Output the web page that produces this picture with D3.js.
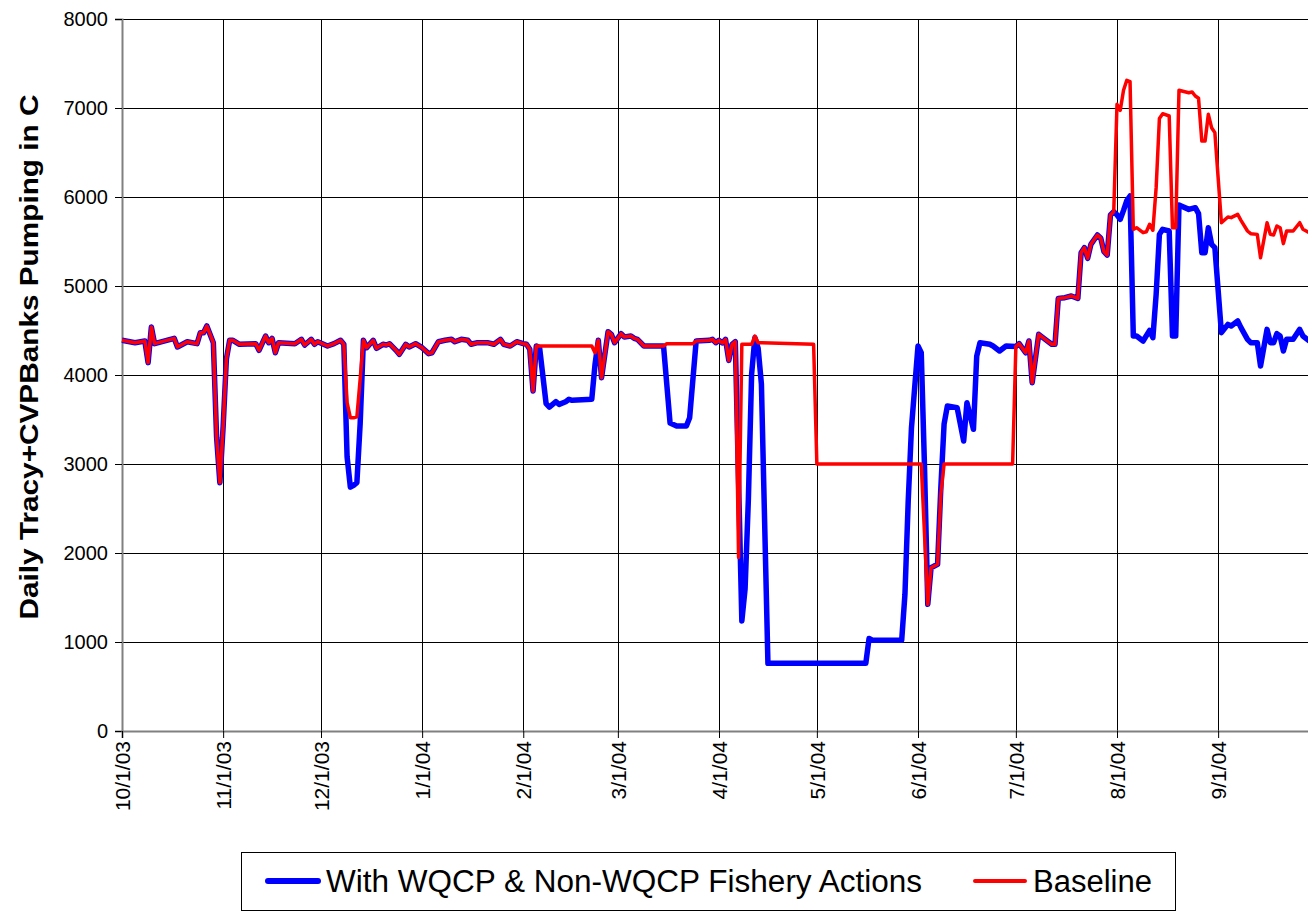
<!DOCTYPE html>
<html>
<head>
<meta charset="utf-8">
<script src="https://cdn.jsdelivr.net/npm/d3@7"></script>
<style>
  body { margin: 0; background: #fff; }
  svg { display: block; font-family: "Liberation Sans", Arial, sans-serif; }
</style>
</head>
<body>
<svg id="chart" width="1308" height="914"></svg>
<script>
// day offsets from 10/1/03, daily pumping in cfs
var withActions = [
  [0,4390],[4,4363],[7,4382],[8,4139],[9,4540],[10,4352],[16,4412],[17,4315],[20,4374],[23,4352],
  [24,4475],[25,4475],[26,4551],[28,4363],[29,3300],[30,2790],[31,3420],[32,4180],[33,4390],[34,4390],
  [36,4345],[41,4352],[42,4277],[44,4438],[45,4363],[46,4412],[47,4250],[48,4363],[53,4352],[55,4401],
  [56,4337],[58,4401],[59,4345],[60,4374],[63,4326],[65,4352],[67,4390],[68,4345],
  [69,3080],[70,2740],[71,2760],[72,2790],[73,3450],[74,4390],
  [75,4307],[77,4390],[78,4300],[80,4345],[81,4337],[82,4352],[84,4277],[85,4232],[87,4345],[88,4315],
  [90,4352],[92,4307],[94,4240],[95,4250],[97,4374],[99,4390],[101,4401],[102,4374],[104,4401],[106,4390],
  [107,4345],[109,4363],[112,4363],[114,4345],[116,4401],[117,4345],[119,4326],[121,4374],[123,4352],[124,4345],
  [125,4289],[126,3820],[127,4326],[128,4307],[130,3678],[131,3640],[133,3700],[134,3670],[136,3700],[137,3727],
  [138,3715],[144,3727],[145,4120],[146,4390],[147,3970],[149,4487],[150,4457],[151,4363],[153,4464],[154,4427],
  [156,4438],[157,4412],[158,4401],[160,4326],[166,4326],[168,3460],[170,3427],[173,3427],[174,3520],[176,4382],
  [180,4390],[181,4401],[182,4363],[183,4390],[184,4360],[185,4401],[186,4164],[187,4345],[188,4374],
  [190,1236],[191,1600],[192,2600],[193,4010],[194,4420],[195,4300],[196,3900],[198,760],[228,760],
  [229,1040],[230,1020],[239,1020],[240,1536],[241,2584],[242,3408],[244,4326],[245,4250],[246,2959],
  [247,1423],[248,1835],[250,1873],[251,2734],[252,3450],[253,3652],[256,3633],[258,3258],[259,3689],
  [261,3390],[262,4213],[263,4363],[266,4345],[267,4326],[269,4270],[271,4326],[274,4320],
  [275,4352],[277,4250],[278,4382],[279,3914],[281,4457],[283,4401],[285,4345],[286,4345],[287,4861],
  [289,4869],[291,4888],[293,4861],[294,5374],[295,5431],[296,5311],[297,5468],[299,5573],[300,5540],
  [301,5386],[302,5348],[303,5798],[304,5835],[305,5800],[306,5749],[307,5850],[308,5960],[309,6011],
  [310,4438],[311,4438],[313,4382],[315,4502],[316,4419],[317,4906],[318,5580],[319,5637],[321,5618],
  [322,4438],[323,4438],[324,5910],[327,5861],[329,5880],[330,5813],[331,5374],[332,5374],[333,5655],
  [334,5468],[335,5431],[337,4476],[339,4569],[340,4551],[342,4607],[343,4532],[345,4401],[346,4363],
  [348,4363],[349,4101],[351,4513],[352,4363],[353,4363],[354,4464],[355,4438],[356,4270],[357,4401],
  [359,4401],[361,4513],[362,4438],[364,4382],[365,4400]
];

var baseline = [
  [0,4390],[4,4363],[7,4382],[8,4139],[9,4540],[10,4352],[16,4412],[17,4315],[20,4374],[23,4352],
  [24,4475],[25,4475],[26,4551],[28,4363],[29,3300],[30,2790],[31,3420],[32,4180],[33,4390],[34,4390],
  [36,4345],[41,4352],[42,4277],[44,4438],[45,4363],[46,4412],[47,4250],[48,4363],[53,4352],[55,4401],
  [56,4337],[58,4401],[59,4345],[60,4374],[63,4326],[65,4352],[67,4390],[68,4345],
  [69,3690],[70,3520],[71,3520],[72,3530],[73,3950],[74,4390],
  [75,4307],[77,4390],[78,4300],[80,4345],[81,4337],[82,4352],[84,4277],[85,4232],[87,4345],[88,4315],
  [90,4352],[92,4307],[94,4240],[95,4250],[97,4374],[99,4390],[101,4401],[102,4374],[104,4401],[106,4390],
  [107,4345],[109,4363],[112,4363],[114,4345],[116,4401],[117,4345],[119,4326],[121,4374],[123,4352],[124,4345],
  [125,4289],[126,3820],[127,4326],[144,4326],[145,4250],[146,4390],[147,3970],[149,4487],[150,4457],[151,4363],
  [153,4464],[154,4427],[156,4438],[157,4412],[158,4401],[160,4326],[166,4326],[167,4352],[175,4352],[176,4382],
  [180,4390],[181,4401],[182,4363],[183,4390],[184,4360],[185,4401],[186,4164],[187,4345],[188,4374],
  [189,1950],[190,4345],[193,4345],[194,4438],[195,4363],[212,4345],[213,3000],[245,3000],
  [247,1423],[248,1835],[250,1873],[251,2659],[252,3000],[273,3000],[274,4320],
  [275,4352],[277,4250],[278,4382],[279,3914],[281,4457],[283,4401],[285,4345],[286,4345],[287,4861],
  [289,4869],[291,4888],[293,4861],[294,5374],[295,5431],[296,5311],[297,5468],[299,5573],[300,5540],
  [301,5386],[302,5348],[303,5798],[304,5835],[305,7041],[306,6974],[307,7199],[308,7311],[309,7296],
  [310,5637],[311,5655],[313,5599],[314,5610],[315,5693],[316,5626],[317,6105],[318,6883],[319,6936],
  [321,6910],[322,5655],[323,5655],[324,7199],[327,7172],[328,7180],[329,7135],[330,7109],[331,6629],
  [332,6629],[333,6929],[334,6779],[335,6723],[337,5711],[339,5775],[340,5768],[342,5805],[343,5738],
  [345,5618],[346,5588],[348,5580],[349,5318],[351,5711],[352,5580],[353,5573],[354,5674],[355,5655],
  [356,5476],[357,5618],[359,5618],[361,5711],[362,5637],[364,5599],[365,5600]
];

var yTicks = [0, 1000, 2000, 3000, 4000, 5000, 6000, 7000, 8000];
var seriesNames = ["With WQCP & Non-WQCP Fishery Actions", "Baseline"];
var seriesColors = ["#0000ff", "#ff0000"];

var start = new Date(Date.UTC(2003, 9, 1));
var end = new Date(Date.UTC(2004, 9, 1));
function dayDate(d) { return d3.utcDay.offset(start, d); }

var svg = d3.select('#chart');

var x = d3.scaleUtc().domain([start, end]).range([122, 1316]);
var y = d3.scaleLinear().domain([0, 8000]).range([731, 19]);
var months = d3.utcMonth.range(start, end);

// grid
svg.append('g').selectAll('line.h')
    .data(yTicks).enter()
    .append('line')
    .attr('x1', 122).attr('x2', 1316)
    .attr('y1', function(d) { return y(d) + 0.5; })
    .attr('y2', function(d) { return y(d) + 0.5; })
    .attr('stroke', '#000').attr('stroke-width', 1);

svg.append('g').selectAll('line.v')
    .data(months.slice(1)).enter()
    .append('line')
    .attr('x1', function(d) { return Math.round(x(d)) + 0.5; })
    .attr('x2', function(d) { return Math.round(x(d)) + 0.5; })
    .attr('y1', 19).attr('y2', 731)
    .attr('stroke', '#000').attr('stroke-width', 1);

// axes
var yAxis = svg.append('g')
    .attr('transform', 'translate(122,0)')
    .call(d3.axisLeft(y).tickValues(yTicks).tickSize(7).tickPadding(7)
        .tickFormat(d3.format('d')));
yAxis.select('.domain').attr('stroke', '#808080').attr('stroke-width', 2);
yAxis.selectAll('text').attr('font-size', 20).attr('fill', '#000')
    .attr('font-family', '"Liberation Sans", Arial, sans-serif');

var xAxis = svg.append('g')
    .attr('transform', 'translate(0,731)')
    .call(d3.axisBottom(x).tickValues(months).tickSize(7)
        .tickFormat(d3.utcFormat('%-m/%-d/%y')));
xAxis.select('.domain').attr('stroke', '#808080').attr('stroke-width', 2);
xAxis.selectAll('text')
    .attr('font-size', 21).attr('fill', '#000')
    .attr('font-family', '"Liberation Sans", Arial, sans-serif')
    .attr('transform', 'rotate(-90)')
    .attr('x', -10).attr('y', 0).attr('dy', '0.35em')
    .style('text-anchor', 'end');

// y title
svg.append('text')
    .attr('transform', 'translate(38,357) rotate(-90)')
    .attr('text-anchor', 'middle')
    .attr('font-size', 25).attr('font-weight', 'bold')
    .attr('textLength', 525).attr('lengthAdjust', 'spacingAndGlyphs')
    .text('Daily Tracy+CVPBanks Pumping in C');

// lines
var line = d3.line()
    .x(function(d) { return x(dayDate(d[0])); })
    .y(function(d) { return y(d[1]); });

svg.append('path').datum(withActions)
    .attr('d', line).attr('fill', 'none')
    .attr('stroke', seriesColors[0]).attr('stroke-width', 5.5)
    .attr('stroke-linejoin', 'round');

svg.append('path').datum(baseline)
    .attr('d', line).attr('fill', 'none')
    .attr('stroke', seriesColors[1]).attr('stroke-width', 3.5)
    .attr('stroke-linejoin', 'round');

// legend
var legend = svg.append('g');
legend.append('rect')
    .attr('x', 241.5).attr('y', 852.5).attr('width', 934).attr('height', 58)
    .attr('fill', '#fff').attr('stroke', '#000').attr('stroke-width', 1);

var items = [
    { name: seriesNames[0], color: seriesColors[0], w: 6, lx: 268, tx: 326, len: 596 },
    { name: seriesNames[1], color: seriesColors[1], w: 4, lx: 975, tx: 1033, len: 119 }
];
items.forEach(function(it) {
    legend.append('line')
        .attr('x1', it.lx).attr('x2', it.lx + 50)
        .attr('y1', 881).attr('y2', 881)
        .attr('stroke', it.color).attr('stroke-width', it.w)
        .attr('stroke-linecap', 'round');
    legend.append('text')
        .attr('x', it.tx).attr('y', 892)
        .attr('font-size', 31)
        .attr('textLength', it.len).attr('lengthAdjust', 'spacingAndGlyphs')
        .text(it.name);
});
</script>
</body>
</html>
